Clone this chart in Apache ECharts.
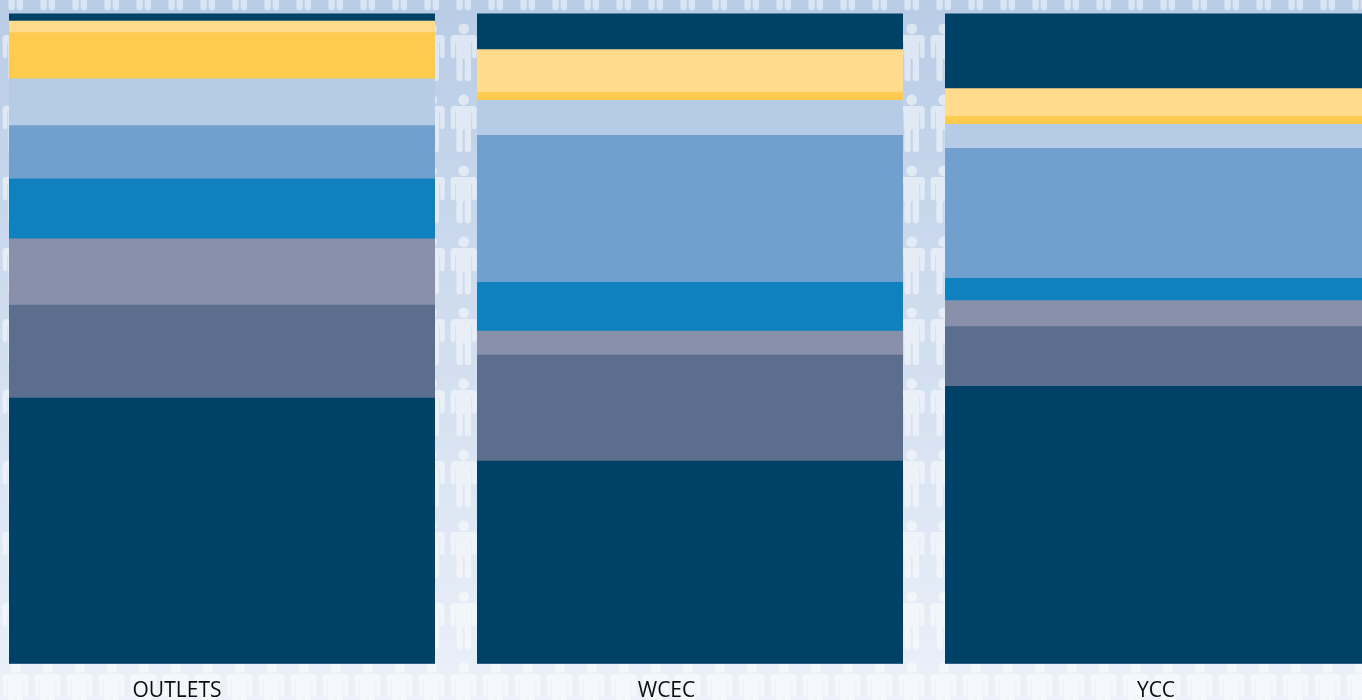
<!DOCTYPE html>
<html>
<head>
<meta charset="utf-8">
<title>Stacked shares</title>
<script src="https://cdn.jsdelivr.net/npm/echarts@6/dist/echarts.min.js"></script>
<style>
  html, body { margin: 0; padding: 0; }
  #main { width: 1362px; height: 700px; }
</style>
</head>
<body>
<div id="main"></div>
<script>
// Categories along the x axis
const categories = ['OUTLETS', 'WCEC', 'YCC'];

// Share of each layer per category (percent), listed bottom to top
const layer1 = [40.9, 31.2, 42.7];
const layer2 = [14.3, 16.3, 9.2];
const layer3 = [10.2, 3.7, 4.0];
const layer4 = [9.2, 7.5, 3.4];
const layer5 = [8.2, 22.6, 20.0];
const layer6 = [7.2, 5.4, 3.7];
const layer7 = [7.1, 1.2, 1.2];
const layer8 = [1.8, 6.6, 4.3];
const layer9 = [1.1, 5.5, 11.5];

const layers = [layer1, layer2, layer3, layer4, layer5, layer6, layer7, layer8, layer9];
const layerNames = ['Layer 1', 'Layer 2', 'Layer 3', 'Layer 4', 'Layer 5', 'Layer 6', 'Layer 7', 'Layer 8', 'Layer 9'];
const layerColors = ['#004267', '#5b6e8e', '#8891a9', '#0f81bf', '#71a0cf', '#b5cbe6', '#ffcb4e', '#ffdb8b', '#004267'];

// Running totals: each layer is drawn as a bar from zero up to its cumulative
// top, with lower layers painted over higher ones. Segments then share a single
// edge, so no background shows through between them.
const cumulative = layers.map((_, i) =>
  categories.map((_, j) => {
    let s = 0;
    for (let k = 0; k <= i; k++) s += layers[k][j];
    return Math.round(s * 10) / 10;
  })
);

// Tile with a simple person figure, repeated across the background
function makePersonTile() {
  const w = 32, h = 71;
  const c = document.createElement('canvas');
  c.width = w; c.height = h;
  const g = c.getContext('2d');
  g.fillStyle = '#ffffff';
  const rr = (x, y, rw, rh, r) => {
    g.beginPath();
    g.roundRect(x, y, rw, rh, r);
    g.fill();
  };
  const person = (cx, hy) => {
    g.beginPath();
    g.arc(cx, hy, 5.4, 0, Math.PI * 2);
    g.fill();
    const top = hy + 6.2;
    rr(cx - 13, top, 26, 7, [4, 4, 0, 0]);              // shoulders
    rr(cx - 13, top, 4.6, 23.2, [4, 0, 2.3, 2.3]);      // left arm
    rr(cx + 8.4, top, 4.6, 23.2, [0, 4, 2.3, 2.3]);     // right arm
    g.fillRect(cx - 7.6, top, 15.2, 24);                // torso
    rr(cx - 7.3, hy + 28, 6.3, 24.5, [0, 0, 3, 3]);     // left leg
    rr(cx + 1.0, hy + 28, 6.3, 24.5, [0, 0, 3, 3]);     // right leg
  };
  [-71, 0, 71].forEach(dy => person(15.7, 28.8 + dy));
  return c;
}

const chart = echarts.init(document.getElementById('main'), null, { renderer: 'canvas' });

// Top layer first so each lower layer is painted above it
const series = layers.map((_, i) => i).reverse().map(i => ({
  name: layerNames[i],
  type: 'bar',
  xAxisIndex: 0,
  yAxisIndex: 0,
  barWidth: 426,
  barGap: '-100%',
  itemStyle: { color: layerColors[i] },
  data: cumulative[i]
}));

const option = {
  animation: false,
  graphic: {
    z: -10,
    elements: [
      {
        type: 'rect',
        z: -10,
        silent: true,
        shape: { x: 0, y: 0, width: 1362, height: 700 },
        style: {
          fill: new echarts.graphic.LinearGradient(0, 0, 0, 1, [
            { offset: 0, color: '#b8cce6' },
            { offset: 1, color: '#ecf1f9' }
          ])
        }
      },
      {
        type: 'rect',
        z: -9,
        silent: true,
        shape: { x: 0, y: 0, width: 1362, height: 700 },
        style: {
          fill: { image: makePersonTile(), repeat: 'repeat' },
          opacity: 0.5
        }
      }
    ]
  },
  grid: [
    { left: -12, right: -30, top: 13.5, bottom: 36.5, outerBoundsMode: 'none' },
    { left: -67.75, right: -38.75, top: 13.5, bottom: 36.5, outerBoundsMode: 'none' }
  ],
  xAxis: [
    {
      type: 'category', gridIndex: 0, data: categories,
      axisLine: { show: false }, axisTick: { show: false }, axisLabel: { show: false },
      splitLine: { show: false }
    },
    {
      type: 'category', gridIndex: 1, data: categories,
      axisLine: { show: false }, axisTick: { show: false }, splitLine: { show: false },
      axisLabel: {
        margin: 17, fontSize: 21, lineHeight: 21,
        fontFamily: 'Open Sans', color: '#0d0d0d'
      }
    }
  ],
  yAxis: [
    { type: 'value', gridIndex: 0, min: 0, max: 100, show: false },
    { type: 'value', gridIndex: 1, min: 0, max: 100, show: false }
  ],
  series: series
};

chart.setOption(option);
</script>
</body>
</html>
